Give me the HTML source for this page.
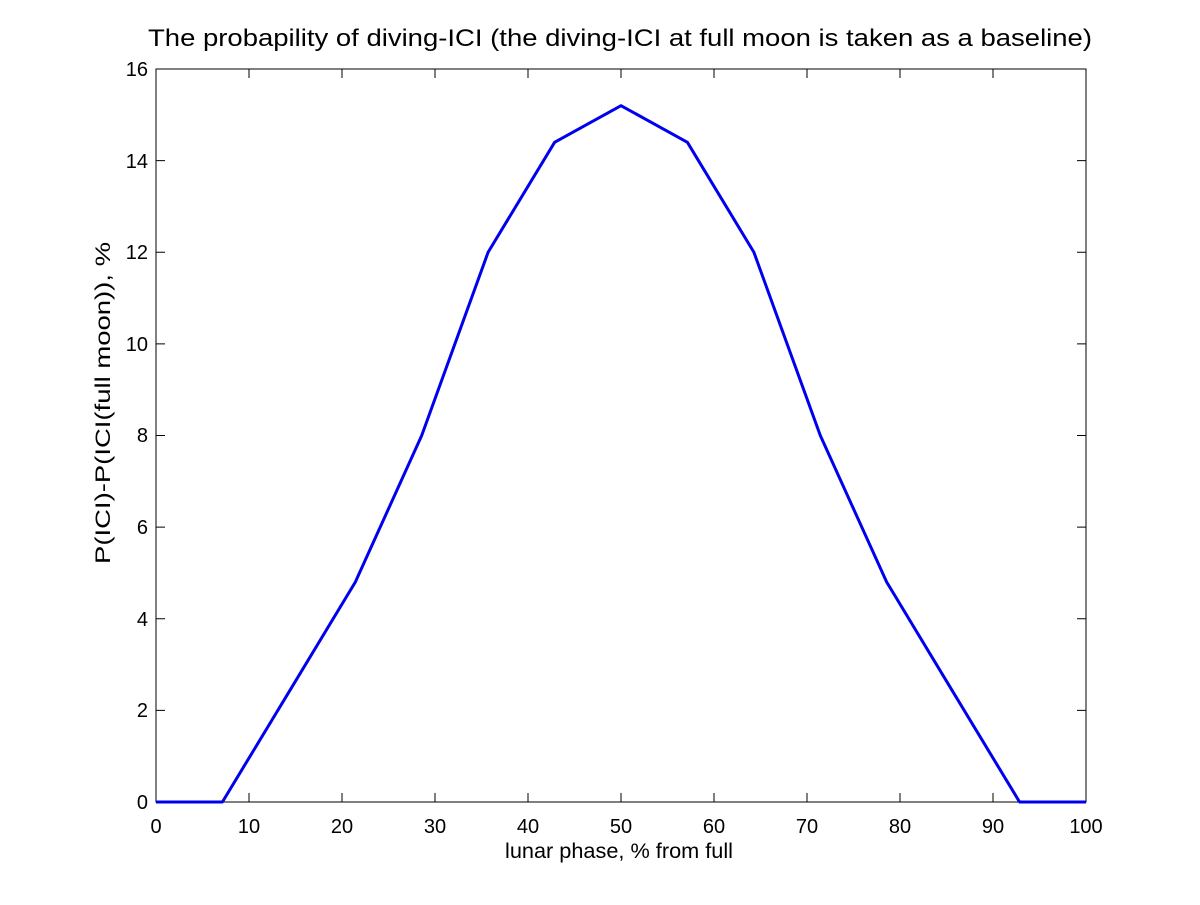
<!DOCTYPE html>
<html><head><meta charset="utf-8"><style>
html,body{margin:0;padding:0;background:#fff;}
svg text{font-family:"Liberation Sans",sans-serif;fill:#000;}
</style></head><body>
<svg width="1200" height="900" xmlns="http://www.w3.org/2000/svg">
<rect width="1200" height="900" fill="#fff"/>
<rect x="156" y="69" width="930" height="733" fill="#fff" stroke="#000" stroke-width="1"/>
<g stroke="#000" stroke-width="1">
<path d="M156,802v-9M249,802v-9M342,802v-9M435,802v-9M528,802v-9M621,802v-9M714,802v-9M807,802v-9M900,802v-9M993,802v-9M1086,802v-9"/>
<path d="M156,69v9M249,69v9M342,69v9M435,69v9M528,69v9M621,69v9M714,69v9M807,69v9M900,69v9M993,69v9M1086,69v9"/>
<path d="M156,802h9M156,710.4h9M156,618.75h9M156,527.1h9M156,435.5h9M156,343.9h9M156,252.25h9M156,160.6h9M156,69h9"/>
<path d="M1086,802h-9M1086,710.4h-9M1086,618.75h-9M1086,527.1h-9M1086,435.5h-9M1086,343.9h-9M1086,252.25h-9M1086,160.6h-9M1086,69h-9"/>
</g>
<g font-size="20" text-anchor="middle">
<text x="156" y="833">0</text><text x="249" y="833">10</text><text x="342" y="833">20</text><text x="435" y="833">30</text><text x="528" y="833">40</text><text x="621" y="833">50</text><text x="714" y="833">60</text><text x="807" y="833">70</text><text x="900" y="833">80</text><text x="993" y="833">90</text><text x="1086" y="833">100</text>
</g>
<g font-size="20" text-anchor="end">
<text x="148" y="809">0</text><text x="148" y="717">2</text><text x="148" y="626">4</text><text x="148" y="534">6</text><text x="148" y="442">8</text><text x="148" y="351">10</text><text x="148" y="259">12</text><text x="148" y="168">14</text><text x="148" y="76">16</text>
</g>
<text x="505" y="858" font-size="21" textLength="228" lengthAdjust="spacingAndGlyphs">lunar phase, % from full</text>
<text x="0" y="0" font-size="21" textLength="322" lengthAdjust="spacingAndGlyphs" transform="translate(110,564) rotate(-90)">P(ICI)-P(ICI(full moon)), %</text>
<text x="148" y="46" font-size="24" textLength="944" lengthAdjust="spacingAndGlyphs">The probapility of diving-ICI (the diving-ICI at full moon is taken as a baseline)</text>
<polyline fill="none" stroke="#0000ee" stroke-width="3" stroke-linejoin="round" points="156,802 222.4,802 288.9,692.05 355.3,582.1 421.7,435.5 488.1,252.25 554.6,142.3 621,105.65 687.4,142.3 753.9,252.25 820.3,435.5 886.7,582.1 953.1,692.05 1019.6,802 1086,802"/>
</svg>
</body></html>
